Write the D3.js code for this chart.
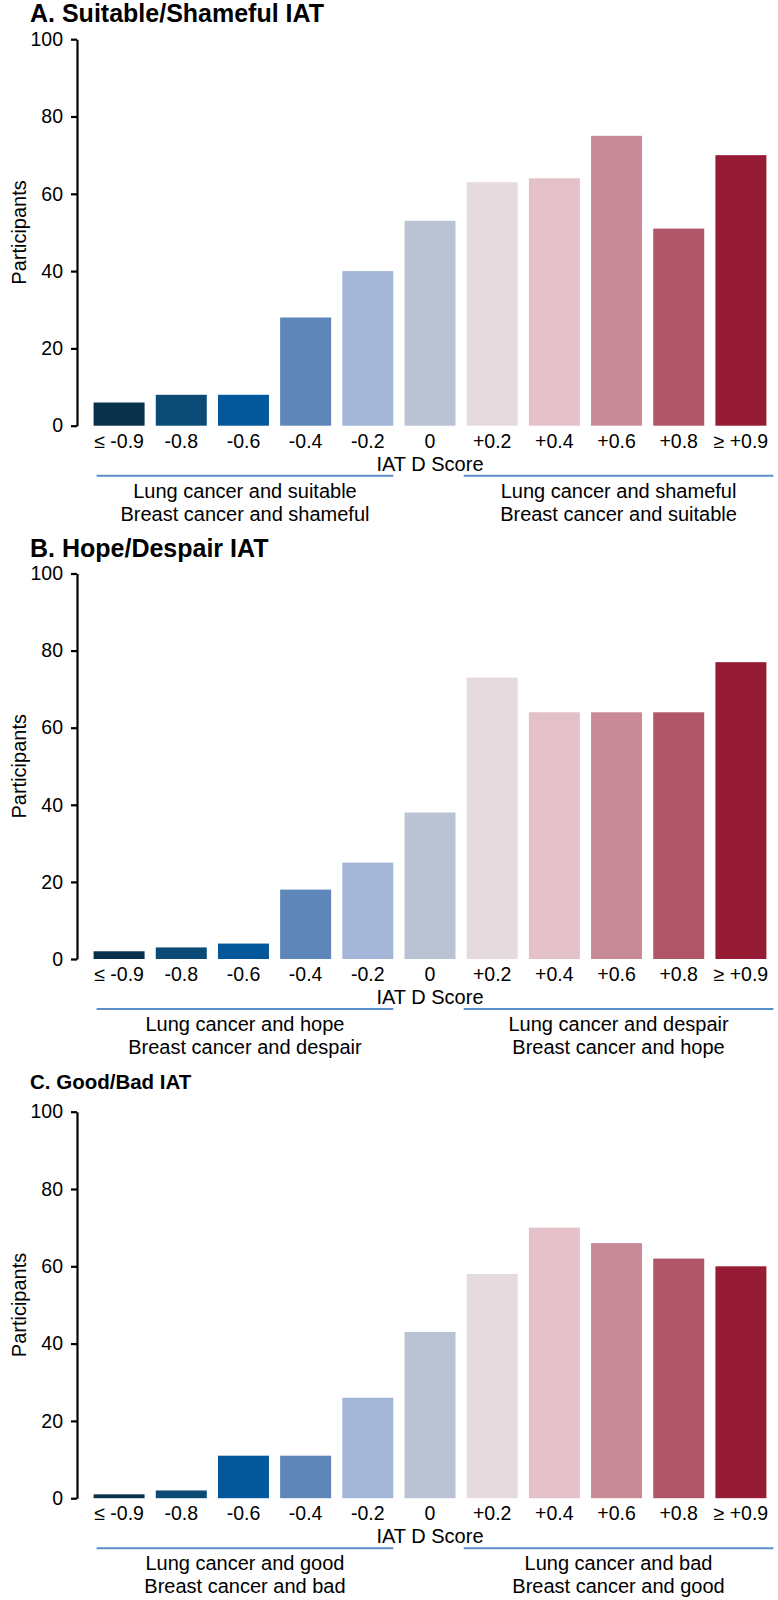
<!DOCTYPE html>
<html><head><meta charset="utf-8">
<script src="https://cdn.jsdelivr.net/npm/d3@7"></script>
<style>
body{margin:0;background:#fff}
svg{display:block}
text{font-family:"Liberation Sans",Arial,Helvetica,sans-serif;fill:#000}
</style>
</head><body><div id="chart"></div>
<script>
// ---- data ----
const categories = ["≤ -0.9","-0.8","-0.6","-0.4","-0.2","0","+0.2","+0.4","+0.6","+0.8","≥ +0.9"];
const suitableShameful = [6,8,8,28,40,53,63,64,75,51,70];
const hopeDespair     = [2,3,4,18,25,38,73,64,64,64,77];
const goodBad         = [1,2,11,11,26,43,58,70,66,62,60];
const yTicks = [0,20,40,60,80,100];
const barColors = ["#08304a","#0b4a75","#02589a","#5f86b8","#a3b6d8","#b9c3d4",
                   "#e5dadd","#e4c0c8","#c98a98","#b05668","#961c36"];
const xAxisTitle = "IAT D Score";
const yAxisTitle = "Participants";
const leftGroupA  = ["Lung cancer and suitable","Breast cancer and shameful"];
const rightGroupA = ["Lung cancer and shameful","Breast cancer and suitable"];
const leftGroupB  = ["Lung cancer and hope","Breast cancer and despair"];
const rightGroupB = ["Lung cancer and despair","Breast cancer and hope"];
const leftGroupC  = ["Lung cancer and good","Breast cancer and bad"];
const rightGroupC = ["Lung cancer and bad","Breast cancer and good"];

// ---- layout ----
const W = 778, H = 1600;
const axisX = 77;
const panels = [
  {title:"A. Suitable/Shameful IAT", values:suitableShameful, left:leftGroupA, right:rightGroupA,
   top:39.2, bottom:425.7, titleY:22, titleSize:25},
  {title:"B. Hope/Despair IAT", values:hopeDespair, left:leftGroupB, right:rightGroupB,
   top:573.5, bottom:959, titleY:557, titleSize:25},
  {title:"C. Good/Bad IAT", values:goodBad, left:leftGroupC, right:rightGroupC,
   top:1111.7, bottom:1498.2, titleY:1089, titleSize:20.5}
];

const svg = d3.select("#chart").append("svg").attr("width",W).attr("height",H);
svg.append("rect").attr("width",W).attr("height",H).attr("fill","#fff");

const x = d3.scaleBand().domain(categories).range([88,772]).paddingInner(0.18).paddingOuter(0.09);
const bw = x.bandwidth();
const color = d3.scaleOrdinal().domain(categories).range(barColors);

panels.forEach(p => {
  const g = svg.append("g");
  const y = d3.scaleLinear().domain([0,100]).range([p.bottom, p.top]);

  g.append("text").attr("x",30).attr("y",p.titleY)
    .attr("font-size",p.titleSize).attr("font-weight","bold").text(p.title);

  const ax = g.append("g").attr("transform",`translate(${axisX},0)`)
    .call(d3.axisLeft(y).tickValues(yTicks).tickSize(6).tickPadding(8).tickSizeOuter(0));
  ax.select(".domain").attr("stroke","#000").attr("stroke-width",2.2);
  ax.selectAll(".tick line").attr("stroke","#000").attr("stroke-width",2.2);
  ax.selectAll(".tick text").attr("font-size",19.5).attr("font-family",null).attr("fill","#000");
  ax.attr("font-family",null);

  g.append("text")
    .attr("transform",`translate(26,${(p.top+p.bottom)/2}) rotate(-90)`)
    .attr("text-anchor","middle").attr("font-size",20).text(yAxisTitle);

  g.selectAll("rect.bar").data(categories.map((c,i)=>({c, v:p.values[i]})))
    .join("rect").attr("class","bar")
    .attr("x",d=>x(d.c)).attr("y",d=>y(d.v))
    .attr("width",bw).attr("height",d=>y(0)-y(d.v))
    .attr("fill",d=>color(d.c));

  g.selectAll("text.xl").data(categories).join("text").attr("class","xl")
    .attr("x",d=>x(d)+bw/2).attr("y",p.bottom+22)
    .attr("text-anchor","middle").attr("font-size",19.5).text(d=>d);

  g.append("text").attr("x",x("0")+bw/2).attr("y",p.bottom+45)
    .attr("text-anchor","middle").attr("font-size",20).text(xAxisTitle);

  const groups = [
    {x1:x(categories[0])+3, x2:x(categories[4])+bw, lines:p.left},
    {x1:x(categories[6])-3, x2:x(categories[10])+bw+7, lines:p.right}
  ];
  groups.forEach(gr => {
    g.append("line").attr("x1",gr.x1).attr("x2",gr.x2)
      .attr("y1",p.bottom+50).attr("y2",p.bottom+50)
      .attr("stroke","#5b8ec8").attr("stroke-width",2);
    gr.lines.forEach((t,k)=>{
      g.append("text").attr("x",(gr.x1+gr.x2)/2).attr("y",p.bottom+72+k*23)
        .attr("text-anchor","middle").attr("font-size",20).text(t);
    });
  });
});
</script>
</body></html>
